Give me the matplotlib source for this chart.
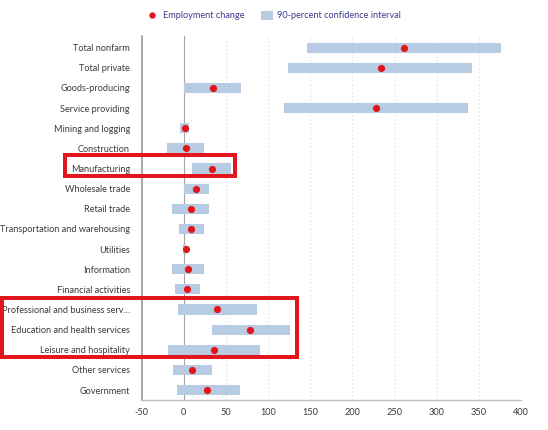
import matplotlib
matplotlib.use("Agg")
import matplotlib.pyplot as plt
from matplotlib.lines import Line2D
from matplotlib.patches import Rectangle

categories = ["Total nonfarm", "Total private", "Goods-producing", "Service providing",
              "Mining and logging", "Construction", "Manufacturing", "Wholesale trade",
              "Retail trade", "Transportation and warehousing", "Utilities", "Information",
              "Financial activities", "Professional and business serv…",
              "Education and health services", "Leisure and hospitality",
              "Other services", "Government"]
employment_change = [261, 234, 34, 228, 1, 2, 33, 15, 8, 9, 2, 4.5, 3.5, 39, 79, 36, 10, 28]
ci_low = [146, 124, 0, 119, -4, -20, 10, 0, -14, -6, -1, -14.5, -11, -7.5, 33.5, -18.5, -13, -8.5]
ci_high = [376, 342, 68, 337, 6, 24, 56, 30, 30, 24.5, 3, 24.5, 19, 87, 126, 90.5, 33, 67]
x_ticks = [-50, 0, 50, 100, 150, 200, 250, 300, 350, 400]
legend_labels = ["Employment change", "90-percent confidence interval"]

RED = "#e0161c"
BLUE = "#b7cbe3"
W, H = 548, 430

plt.rcParams['font.family'] = ['Lato', 'DejaVu Sans']

fig = plt.figure(figsize=(W / 100, H / 100), dpi=100)
ax = fig.add_axes([141.7 / W, 1 - 399.5 / H, (521 - 141.7) / W, (399.5 - 36) / H])

ypos = list(range(len(categories)))
widths = [h - l for l, h in zip(ci_low, ci_high)]
ax.barh(ypos, widths, left=ci_low, height=0.5, color=BLUE, zorder=2)
ax.scatter(employment_change, ypos, s=27, color=RED, zorder=3, linewidths=0)

ax.set_xlim(-50, 400)
ax.set_ylim(len(categories) - 0.53, -0.58)
ax.set_xticks(x_ticks)
ax.set_xticklabels([str(t) for t in x_ticks])
ax.set_yticks(ypos)
ax.set_yticklabels(categories)
ax.tick_params(axis='y', length=0, pad=8.5, labelsize=6.6, labelcolor="#3a3a3a")
ax.tick_params(axis='x', length=0, pad=6, labelsize=6.6, labelcolor="#3a3a3a")
for t in x_ticks[2:]:
    ax.axvline(t, color="#d9d9d9", lw=0.7, ls=(0, (1.5, 2.5)), zorder=1)
ax.axvline(0, color="#a6a6a6", lw=0.8, zorder=1)
for s in ["top", "right"]:
    ax.spines[s].set_visible(False)
ax.spines["left"].set_color("#9a9a9a")
ax.spines["bottom"].set_color("#bdbdbd")
ax.spines["left"].set_linewidth(1.2)
ax.spines["bottom"].set_linewidth(1.0)

# legend (figure coordinates)
fig.add_artist(Line2D([151.8 / W], [1 - 15.2 / H], marker='o', color='none',
                      markerfacecolor=RED, markeredgewidth=0, markersize=4.6,
                      transform=fig.transFigure))
fig.text(163 / W, 1 - 15.2 / H, legend_labels[0], ha='left', va='center',
         fontsize=6.6, color="#3b3b8c")
fig.patches.append(Rectangle((260.6 / W, 1 - 19.5 / H), 12 / W, 8.5 / H,
                             transform=fig.transFigure, facecolor=BLUE, edgecolor='none'))
fig.text(277 / W, 1 - 15.2 / H, legend_labels[1], ha='left', va='center',
         fontsize=6.6, color="#3b3b8c")

# highlight boxes
fig.patches.append(Rectangle((64.7 / W, 1 - 176 / H), (235.3 - 64.7) / W, (176 - 155.3) / H,
                             transform=fig.transFigure, fill=False, edgecolor="#e3161e", lw=2.9))
fig.patches.append(Rectangle((2 / W, 1 - 356.7 / H), (297 - 2) / W, (356.7 - 298) / H,
                             transform=fig.transFigure, fill=False, edgecolor="#e3161e", lw=2.9))

fig.savefig("out.png", dpi=100)
